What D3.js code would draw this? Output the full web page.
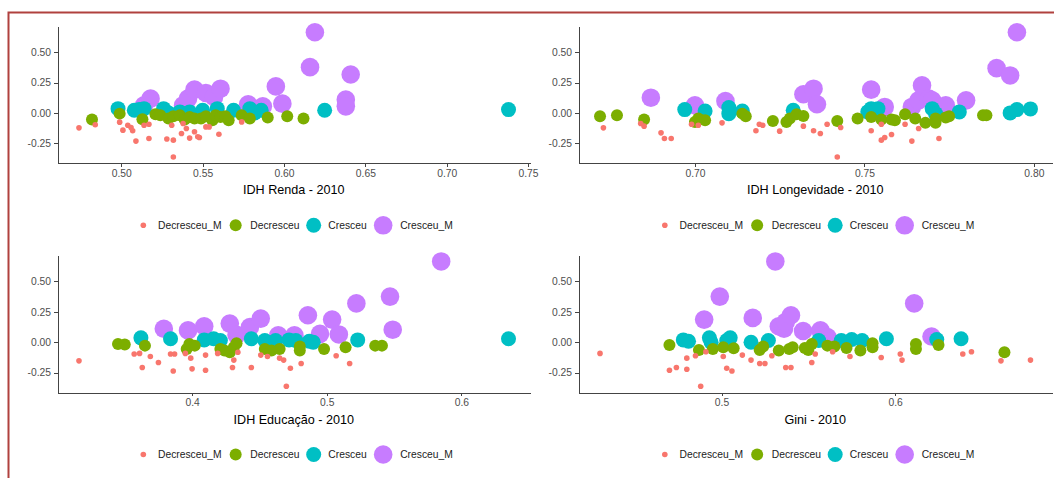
<!DOCTYPE html>
<html>
<head>
<meta charset="utf-8">
<title>IDH 2010 x variação</title>
<script src="https://cdnjs.cloudflare.com/ajax/libs/d3/7.8.5/d3.min.js"></script>
<style>
body { margin: 0; background: #fff; }
svg { font-family: "Liberation Sans", Arial, sans-serif; }
.axis path,
.axis line {
	fill: none;
	stroke: #444;
	shape-rendering: crispEdges;
	}
.axis text { fill: #4d4d4d; font-size: 10.3px; }
.title { font-size: 12.6px; fill: #000; }
.legend text { font-size: 10.3px; fill: #222; }
</style>
</head>
<body>
<script>
// categorias e estilo ggplot
var categories = ["Decresceu_M", "Decresceu", "Cresceu", "Cresceu_M"];
var colors = ["#F8766D", "#7CAE00", "#00BFC4", "#C77CFF"];
var radii = [2.8, 6, 7.5, 9.3];
var yTicks = [-0.25, 0, 0.25, 0.5];

// IDH Renda - 2010
var rendaDecM = [[0.474,-0.122],[0.484,-0.097],[0.499,-0.075],[0.501,-0.141],[0.504,-0.100],[0.506,-0.119],[0.507,-0.146],[0.509,-0.231],[0.514,-0.100],[0.517,-0.209],[0.517,-0.092],[0.528,-0.214],[0.531,-0.100],[0.532,-0.223],[0.532,-0.362],[0.537,-0.168],[0.538,-0.086],[0.540,-0.127],[0.542,-0.206],[0.545,-0.154],[0.547,-0.195],[0.548,-0.201],[0.552,-0.114],[0.554,-0.114],[0.560,-0.174],[0.574,-0.073]];
var rendaDec = [[0.482,-0.054],[0.499,-0.005],[0.513,-0.051],[0.521,-0.010],[0.524,-0.018],[0.529,-0.045],[0.532,-0.026],[0.536,-0.018],[0.539,-0.054],[0.542,-0.032],[0.545,-0.045],[0.549,-0.045],[0.552,-0.026],[0.556,-0.059],[0.558,-0.018],[0.561,-0.032],[0.564,-0.026],[0.566,-0.059],[0.574,-0.018],[0.579,-0.045],[0.590,-0.037],[0.602,-0.026],[0.612,-0.045]];
var rendaCre = [[0.498,0.036],[0.508,0.023],[0.511,0.028],[0.514,0.036],[0.526,0.036],[0.529,0.001],[0.536,0.009],[0.542,0.009],[0.550,0.023],[0.559,0.036],[0.569,0.023],[0.579,0.036],[0.582,0.001],[0.586,0.023],[0.625,0.023],[0.738,0.028]];
var rendaCreM = [[0.514,0.064],[0.518,0.118],[0.538,0.064],[0.541,0.118],[0.545,0.192],[0.552,0.165],[0.557,0.132],[0.561,0.200],[0.578,0.072],[0.587,0.055],[0.595,0.219],[0.599,0.077],[0.616,0.377],[0.619,0.664],[0.641,0.317],[0.638,0.110],[0.638,0.055]];
var rendaTicks = [0.50, 0.55, 0.60, 0.65, 0.70, 0.75];

// IDH Longevidade - 2010
var longDecM = [[0.673,-0.122],[0.684,-0.086],[0.685,-0.108],[0.690,-0.163],[0.691,-0.209],[0.693,-0.209],[0.699,-0.092],[0.701,-0.100],[0.708,-0.081],[0.718,-0.146],[0.719,-0.092],[0.720,-0.100],[0.725,-0.149],[0.732,-0.108],[0.735,-0.146],[0.737,-0.168],[0.739,-0.092],[0.742,-0.362],[0.743,-0.119],[0.752,-0.146],[0.755,-0.092],[0.755,-0.223],[0.756,-0.201],[0.758,-0.176],[0.762,-0.092],[0.764,-0.231],[0.766,-0.127],[0.772,-0.209]];
var longDec = [[0.672,-0.026],[0.677,-0.018],[0.685,-0.054],[0.700,-0.073],[0.701,-0.045],[0.703,-0.059],[0.714,-0.005],[0.715,-0.026],[0.723,-0.065],[0.727,-0.073],[0.728,-0.045],[0.730,-0.010],[0.732,-0.024],[0.742,-0.065],[0.748,-0.045],[0.752,-0.032],[0.755,-0.054],[0.758,-0.054],[0.759,-0.059],[0.762,-0.010],[0.765,-0.045],[0.768,-0.081],[0.771,-0.045],[0.771,-0.081],[0.774,-0.037],[0.775,-0.026],[0.785,-0.018],[0.786,-0.018]];
var longCre = [[0.697,0.028],[0.703,0.017],[0.710,0.045],[0.710,-0.005],[0.714,0.017],[0.729,0.023],[0.751,0.009],[0.752,0.036],[0.754,0.036],[0.770,0.036],[0.771,-0.005],[0.778,0.009],[0.793,0.001],[0.795,0.028],[0.799,0.034]];
var longCreM = [[0.687,0.126],[0.700,0.064],[0.709,0.099],[0.732,0.154],[0.735,0.200],[0.736,0.072],[0.752,0.192],[0.756,0.050],[0.764,0.050],[0.766,0.104],[0.767,0.227],[0.769,0.118],[0.770,0.104],[0.774,0.064],[0.780,0.104],[0.789,0.369],[0.793,0.309],[0.795,0.664]];
var longTicks = [0.70, 0.75, 0.80];

// IDH Educação - 2010
var eduDecM = [[0.316,-0.153],[0.357,-0.097],[0.361,-0.092],[0.363,-0.208],[0.369,-0.117],[0.375,-0.167],[0.384,-0.097],[0.387,-0.097],[0.386,-0.236],[0.395,-0.092],[0.399,-0.131],[0.400,-0.219],[0.410,-0.106],[0.410,-0.231],[0.419,-0.092],[0.430,-0.208],[0.431,-0.147],[0.434,-0.083],[0.444,-0.208],[0.451,-0.106],[0.456,-0.117],[0.465,-0.131],[0.468,-0.147],[0.470,-0.362],[0.473,-0.214],[0.481,-0.175],[0.507,-0.111],[0.517,-0.175]];
var eduDec = [[0.345,-0.014],[0.350,-0.019],[0.365,-0.028],[0.396,-0.056],[0.398,-0.014],[0.402,-0.028],[0.421,-0.056],[0.424,-0.069],[0.428,-0.083],[0.431,-0.042],[0.433,-0.008],[0.454,-0.056],[0.459,-0.069],[0.465,-0.056],[0.480,-0.036],[0.480,-0.069],[0.498,-0.056],[0.514,-0.042],[0.536,-0.028],[0.541,-0.028]];
var eduCre = [[0.362,0.036],[0.384,0.028],[0.409,0.019],[0.416,0.028],[0.421,0.014],[0.444,0.028],[0.454,0.014],[0.462,0.014],[0.472,0.019],[0.477,0.014],[0.487,0.008],[0.490,0.000],[0.523,0.019],[0.635,0.028]];
var eduCreM = [[0.379,0.111],[0.397,0.097],[0.409,0.131],[0.428,0.153],[0.433,0.061],[0.443,0.125],[0.451,0.194],[0.464,0.056],[0.476,0.056],[0.486,0.222],[0.495,0.069],[0.504,0.186],[0.509,0.064],[0.522,0.319],[0.547,0.375],[0.549,0.103],[0.585,0.664]];
var eduTicks = [0.4, 0.5, 0.6];

// Gini - 2010
var giniDecM = [[0.430,-0.092],[0.470,-0.231],[0.474,-0.208],[0.480,-0.222],[0.480,-0.131],[0.485,-0.111],[0.488,-0.362],[0.491,-0.078],[0.501,-0.117],[0.503,-0.214],[0.506,-0.236],[0.512,-0.106],[0.517,-0.147],[0.522,-0.175],[0.525,-0.175],[0.529,-0.111],[0.537,-0.208],[0.540,-0.208],[0.552,-0.167],[0.554,-0.097],[0.564,-0.078],[0.574,-0.117],[0.592,-0.125],[0.603,-0.097],[0.604,-0.147],[0.639,-0.097],[0.644,-0.078],[0.661,-0.153],[0.678,-0.147]];
var giniDec = [[0.470,-0.022],[0.487,-0.064],[0.495,-0.056],[0.501,-0.042],[0.507,-0.050],[0.522,-0.064],[0.524,-0.036],[0.533,-0.069],[0.539,-0.056],[0.541,-0.042],[0.548,-0.047],[0.550,-0.064],[0.552,-0.014],[0.561,-0.028],[0.565,-0.036],[0.572,-0.047],[0.580,-0.069],[0.587,-0.042],[0.587,-0.008],[0.612,-0.014],[0.612,-0.056],[0.625,-0.022],[0.663,-0.083]];
var giniCre = [[0.478,0.019],[0.481,0.008],[0.493,0.036],[0.494,0.000],[0.503,0.014],[0.505,0.036],[0.517,0.000],[0.527,0.014],[0.556,0.014],[0.569,0.014],[0.575,0.022],[0.581,0.014],[0.595,0.028],[0.624,0.022],[0.638,0.028]];
var giniCreM = [[0.490,0.186],[0.499,0.375],[0.518,0.200],[0.531,0.664],[0.533,0.131],[0.536,0.111],[0.537,0.167],[0.540,0.222],[0.547,0.092],[0.557,0.097],[0.558,0.056],[0.561,0.042],[0.611,0.319],[0.621,0.047]];
var giniTicks = [0.5, 0.6];

var width = 1054, height = 478;

var svg = d3.select("body").append("svg")
	.attr("width", width)
	.attr("height", height);

// moldura vermelha do print
svg.append("path")
	.attr("d", "M1060,12.5H8.5V490")
	.attr("fill", "none")
	.attr("stroke", "#b0413e")
	.attr("stroke-width", 2);

var panels = [
	{title: "IDH Renda - 2010", series: [rendaDecM, rendaDec, rendaCre, rendaCreM], ticks: rendaTicks, fmt: 2, x0: 57.5, x1: 530, y0: 163.3, y1: 26},
	{title: "IDH Longevidade - 2010", series: [longDecM, longDec, longCre, longCreM], ticks: longTicks, fmt: 2, x0: 578.5, x1: 1052, y0: 163.3, y1: 26},
	{title: "IDH Educação - 2010", series: [eduDecM, eduDec, eduCre, eduCreM], ticks: eduTicks, fmt: 1, x0: 57.5, x1: 530, y0: 392.5, y1: 255.2},
	{title: "Gini - 2010", series: [giniDecM, giniDec, giniCre, giniCreM], ticks: giniTicks, fmt: 1, x0: 578.5, x1: 1052, y0: 392.5, y1: 255.2}
];

// expansão de 5% como o ggplot
function expand(ext) {
	var pad = (ext[1] - ext[0]) * 0.05;
	return [ext[0] - pad, ext[1] + pad];
}

panels.forEach(function(p) {
	var all = d3.merge(p.series);
	var x = d3.scaleLinear().domain(expand(d3.extent(all, function(d) { return d[0]; }))).range([p.x0, p.x1]);
	var y = d3.scaleLinear().domain(expand(d3.extent(all, function(d) { return d[1]; }))).range([p.y0, p.y1]);

	var g = svg.append("g");

	// pontos: roxo embaixo, vermelho por cima
	[3, 2, 1, 0].forEach(function(k) {
		g.append("g").selectAll("circle").data(p.series[k]).enter()
			.append("circle")
			.attr("cx", function(d) { return x(d[0]); })
			.attr("cy", function(d) { return y(d[1]); })
			.attr("r", radii[k])
			.style("fill", colors[k]);
	});

	g.append("g").attr("class", "axis")
		.attr("transform", "translate(0," + p.y0 + ")")
		.call(d3.axisBottom(x).tickValues(p.ticks).tickSize(3.5).tickSizeOuter(0).tickPadding(3)
			.tickFormat(function(d) { return d.toFixed(p.fmt); }));

	g.append("g").attr("class", "axis")
		.attr("transform", "translate(" + p.x0 + ",0)")
		.call(d3.axisLeft(y).tickValues(yTicks).tickSize(3.5).tickSizeOuter(0).tickPadding(3)
			.tickFormat(function(d) { return d.toFixed(2); }));

	var cx = (p.x0 + p.x1) / 2;
	g.append("text").attr("class", "title")
		.attr("x", cx).attr("y", p.y0 + 31)
		.attr("text-anchor", "middle")
		.text(p.title);

	// legenda horizontal centrada no painel
	var leg = g.append("g").attr("class", "legend");
	var keyW = [17.3, 17.3, 17.3, 22];
	var pos = 0;
	categories.forEach(function(c, k) {
		leg.append("circle")
			.attr("cx", pos + keyW[k] / 2).attr("cy", 0)
			.attr("r", radii[k]).style("fill", colors[k]);
		var t = leg.append("text")
			.attr("x", pos + keyW[k] + 6).attr("y", 0)
			.attr("dy", "0.35em")
			.text(c);
		pos += keyW[k] + 6 + t.node().getComputedTextLength() + 5.5;
	});
	pos -= 5.5;
	leg.attr("transform", "translate(" + (cx - pos / 2) + "," + (p.y0 + 62) + ")");
});
</script>
</body>
</html>
